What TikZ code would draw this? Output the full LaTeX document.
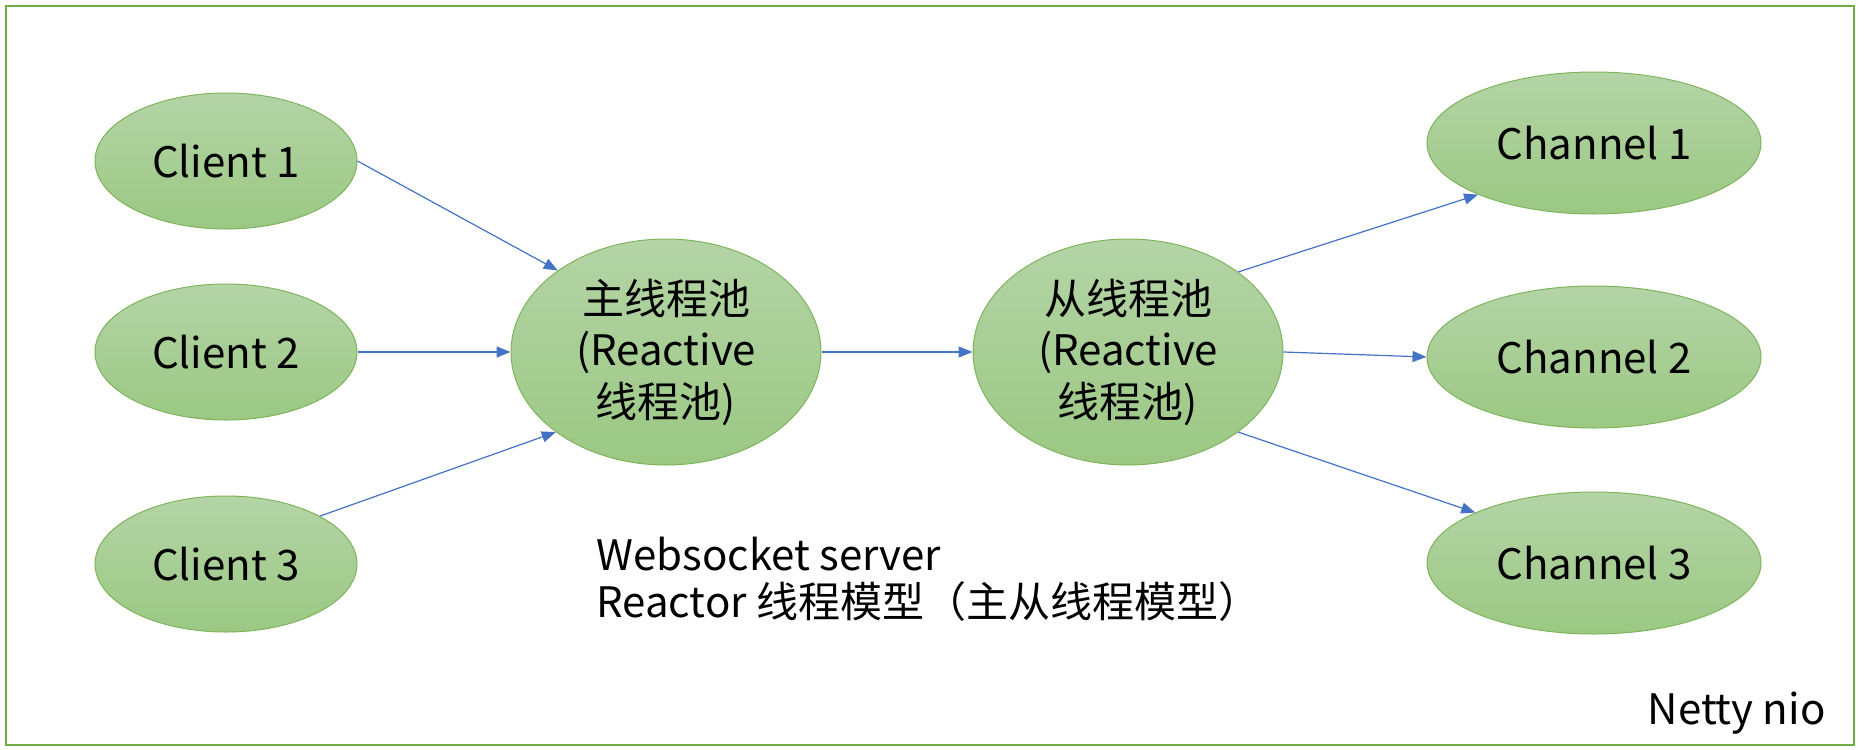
\documentclass[tikz,border=0pt]{standalone}
\usepackage{fontspec}
\setmainfont{Noto Sans CJK SC}
\usetikzlibrary{arrows.meta,shapes.geometric}
\definecolor{frame}{HTML}{70AD47}
\definecolor{topg}{HTML}{B4D4A6}
\definecolor{botg}{HTML}{9BC883}
\definecolor{edgeg}{HTML}{7DB45C}
\definecolor{arr}{HTML}{4472C4}
\begin{document}
\begin{tikzpicture}[x=0.5pt,y=-0.5pt,
  oval/.style={ellipse,draw=edgeg,line width=0.5pt,top color=topg,bottom color=botg,inner sep=0pt,font=\fontsize{21}{25.75}\selectfont,align=center},
  small/.style={oval,minimum width=131pt,minimum height=68pt},
  pool/.style={oval,minimum width=155pt,minimum height=113pt},
  chan/.style={oval,minimum width=167pt,minimum height=71pt},
  link/.style={draw=arr,line width=0.6pt,-{Triangle[length=7pt,width=5.5pt]}},
  lbl/.style={font=\fontsize{21}{25.75}\selectfont,inner sep=0pt}]
\useasboundingbox (0,0) rectangle (1865,750);
\draw[frame,line width=1.3pt] (6,6) rectangle (1854,745);
\node[small] (c1) at (226,161) {Client 1};
\node[small] (c2) at (226,352) {Client 2};
\node[small] (c3) at (226,564) {Client 3};
\node[pool] (main) at (666,352) {主线程池\\(Reactive\\线程池)};
\node[pool] (slave) at (1128,352) {从线程池\\(Reactive\\线程池)};
\node[chan] (h1) at (1594,143) {Channel 1};
\node[chan] (h2) at (1594,357) {Channel 2};
\node[chan] (h3) at (1594,563) {Channel 3};
\draw[link] (c1.east) -- (main.143);
\draw[link] (c2.east) -- (main.west);
\draw[link] (c3.27) -- (main.216);
\draw[link] (main.east) -- (slave.west);
\draw[link] (slave.36) -- (h1.204);
\draw[link] (slave.east) -- (h2.west);
\draw[link] (slave.-36) -- (h3.157);
\node[lbl,anchor=base west] (t1) at (596,570) {Websocket server};
\node[lbl,anchor=base west] (t2) at (596,617) {Reactor 线程模型（主从线程模型）};
\node[lbl,anchor=base east] (t3) at (1826,724) {Netty nio};
\end{tikzpicture}
\end{document}
